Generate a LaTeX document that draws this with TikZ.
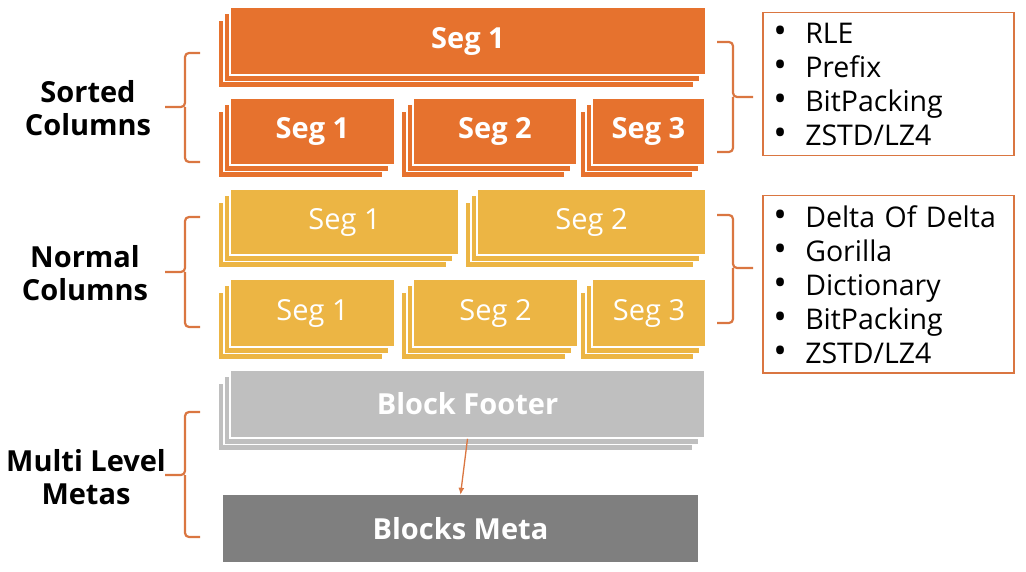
\documentclass[tikz,border=0pt]{standalone}
\usepackage{fontspec}
\setmainfont{Open Sans}
\usetikzlibrary{arrows.meta,shadows}
\definecolor{srt}{HTML}{E6722E}
\definecolor{nrm}{HTML}{ECB544}
\definecolor{ftr}{HTML}{BFBFBF}
\definecolor{mta}{HTML}{7F7F7F}
\definecolor{brc}{HTML}{DA7641}
\newcommand{\itm}[1]{\makebox[32pt][l]{\raisebox{0pt}{\fontsize{36}{36}\selectfont\textbullet}}#1}

\begin{document}
\begin{tikzpicture}[x=1pt,y=-1pt,>=Latex,
  big/.style={font=\fontsize{29}{33}\selectfont},
  bigb/.style={font=\fontsize{29}{33}\selectfont\bfseries},
  seg/.style={draw=white,line width=1.5pt,inner sep=0pt,text=white,
    double copy shadow={shadow xshift=-6pt,shadow yshift=-6.5pt}},
  sortseg/.style={seg,fill=srt,bigb},
  normseg/.style={seg,fill=nrm,big},
  list/.style={draw=brc,line width=1.5pt,text width=230pt,inner xsep=10.5pt,
    align=left,anchor=north west,font=\fontsize{28.5}{34}\selectfont},
  lbl/.style={align=center,bigb},
  brace/.style={draw=brc,line width=2.2pt,rounded corners=4pt},
  flow/.style={-{Latex[length=7pt,width=6pt]},draw=brc,line width=1.3pt}]
  \useasboundingbox (0,0) rectangle (1026,572);
  % sorted columns
  \node[sortseg,minimum width=476pt,minimum height=68pt] (sa) at (468,41) {Seg 1};
  \node[sortseg,minimum width=165pt,minimum height=67pt] (sb1) at (312.5,131.5) {Seg 1};
  \node[sortseg,minimum width=164pt,minimum height=67pt] (sb2) at (495,131.5) {Seg 2};
  \node[sortseg,minimum width=113pt,minimum height=67pt] (sb3) at (648.5,131.5) {Seg 3};
  % normal columns
  \node[normseg,minimum width=229pt,minimum height=66pt] (na1) at (344.5,222) {Seg 1};
  \node[normseg,minimum width=229pt,minimum height=66pt] (na2) at (591.5,222) {Seg 2};
  \node[normseg,minimum width=165pt,minimum height=68pt] (nb1) at (312.5,313) {Seg 1};
  \node[normseg,minimum width=165pt,minimum height=68pt] (nb2) at (495.5,313) {Seg 2};
  \node[normseg,minimum width=114pt,minimum height=68pt] (nb3) at (649,313) {Seg 3};
  % metas
  \node[seg,fill=ftr,bigb,minimum width=475pt,minimum height=68pt] (foot) at (467.5,404) {Block Footer};
  \node[fill=mta,text=white,bigb,inner sep=0pt,minimum width=475pt,minimum height=67pt] (meta) at (460.5,528.5) {Blocks Meta};
  \draw[flow] (foot.south) -- (meta.north);
  % labels
  \node[lbl] (lsort) at (88,108) {Sorted\\Columns};
  \node[lbl] (lnorm) at (85,273) {Normal\\Columns};
  \node[lbl] (lmeta) at (86,477) {Multi Level\\Metas};
  \draw[brace] (200,53) -- (185,53) -- (185,107) -- (165,107);
  \draw[brace] (185,107) -- (185,162) -- (200,162);
  \draw[brace] (200,217) -- (185,217) -- (185,272) -- (165,272);
  \draw[brace] (185,272) -- (185,327) -- (200,327);
  \draw[brace] (200,412) -- (185,412) -- (185,475) -- (165,475);
  \draw[brace] (185,475) -- (185,537) -- (200,537);
  % encodings
  \node[list,minimum height=143pt] (esort) at (762,12)
    {\itm{RLE}\\\itm{Prefix}\\\itm{BitPacking}\\\itm{ZSTD/LZ4}};
  \node[list,minimum height=177pt] (enorm) at (762,195)
    {\itm{Delta Of Delta}\\\itm{Gorilla}\\\itm{Dictionary}\\\itm{BitPacking}\\\itm{ZSTD/LZ4}};
  \draw[brace] (717,42) -- (733,42) -- (733,97) -- (753,97);
  \draw[brace] (733,97) -- (733,152) -- (717,152);
  \draw[brace] (717,215) -- (733,215) -- (733,268) -- (753,268);
  \draw[brace] (733,268) -- (733,323) -- (717,323);
\end{tikzpicture}
\end{document}
